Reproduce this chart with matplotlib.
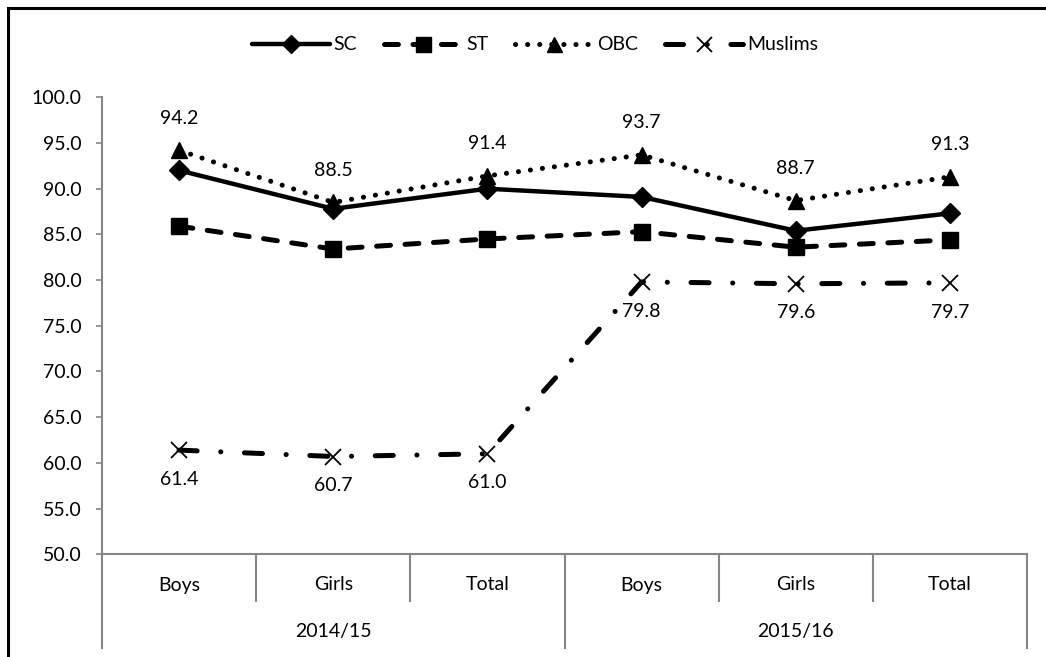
import matplotlib
matplotlib.use("Agg")
import matplotlib.pyplot as plt
import matplotlib.transforms as mtransforms
from matplotlib.patches import Rectangle
from matplotlib.lines import Line2D

# ---- data ----
years = ["2014/15", "2015/16"]
groups = ["Boys", "Girls", "Total"]
sc = [92.0, 87.8, 90.0, 89.1, 85.4, 87.3]
st = [85.9, 83.4, 84.5, 85.3, 83.6, 84.4]
obc = [94.2, 88.5, 91.4, 93.7, 88.7, 91.3]
muslims = [61.4, 60.7, 61.0, 79.8, 79.6, 79.7]
series_names = ["SC", "ST", "OBC", "Muslims"]
yticks = [50, 55, 60, 65, 70, 75, 80, 85, 90, 95, 100]

plt.rcParams["font.family"] = ["Lato", "DejaVu Sans"]
plt.rcParams["lines.scale_dashes"] = False

W, H = 1046, 657
fig = plt.figure(figsize=(W / 100, H / 100), dpi=100)
ax = fig.add_axes([102 / W, 1 - 554.3 / H, (1027 - 102) / W, (554.3 - 97.3) / H])

x = list(range(len(sc)))
grey = "#868686"
fs = 14

styles = [
    dict(data=sc, marker="D", ms=10, lw=3.2, dashes=None),
    dict(data=st, marker="s", ms=12, lw=3.6, dashes=(10, 10.5)),
    dict(data=obc, marker="^", ms=12, lw=3.6, dashes=(0.1, 8.6)),
    dict(data=muslims, marker="x", ms=12, lw=3.6, dashes=(13, 17, 0.1, 17)),
]

handles = []
for name, st_ in zip(series_names, styles):
    line, = ax.plot(x, st_["data"], color="black", lw=st_["lw"], marker=st_["marker"],
                    ms=st_["ms"], mfc="black", mec="black",
                    mew=1.3 if st_["marker"] == "x" else 1.0,
                    solid_capstyle="round", dash_capstyle="round",
                    clip_on=False, zorder=3)
    if st_["dashes"] is not None:
        line.set_dashes(st_["dashes"])
    line.set_label(name)
    handles.append(line)

# value labels: OBC above, Muslims below
for xi, v in zip(x, obc):
    ax.annotate(f"{v:.1f}", (xi, v), xytext=(0, 23), textcoords="offset points",
                ha="center", va="center", fontsize=fs)
for xi, v in zip(x, muslims):
    ax.annotate(f"{v:.1f}", (xi, v), xytext=(0, -21), textcoords="offset points",
                ha="center", va="center", fontsize=fs)

ax.set_xlim(-0.5, len(sc) - 0.5)
ax.set_ylim(50, 100)
ax.set_yticks(yticks)
ax.set_yticklabels([f"{t:.1f}" for t in yticks])
ax.tick_params(axis="y", length=4.3, width=1.2, color=grey, pad=10.5, labelsize=fs)
ax.set_xticks([])
for s in ["top", "right"]:
    ax.spines[s].set_visible(False)
for s in ["left", "bottom"]:
    ax.spines[s].set_color(grey)
    ax.spines[s].set_linewidth(1.5)

# two-level category axis
trans = mtransforms.blended_transform_factory(ax.transData, fig.transFigure)
y_axis = 1 - 554.3 / H
y_inner = 1 - 601 / H
y_outer = 1 - 648 / H
n = len(groups)
for k in range(len(sc) + 1):
    xb = k - 0.5
    y_end = y_outer if k % n == 0 else y_inner
    fig.add_artist(Line2D([xb, xb], [y_axis, y_end], transform=trans,
                          color=grey, lw=1.5))
for i in range(len(sc)):
    fig.text(i, 1 - 585 / H, groups[i % n], transform=trans,
             ha="center", va="center", fontsize=fs)
for j, yr in enumerate(years):
    fig.text(j * n + (n - 1) / 2, 1 - 632 / H, yr, transform=trans,
             ha="center", va="center", fontsize=fs)

# legend
fig.legend(handles=handles, loc="center", bbox_to_anchor=(535 / W, 1 - 45 / H),
           ncol=4, frameon=False, fontsize=fs, handlelength=4.0,
           handletextpad=0.2, columnspacing=1.4, markerscale=0.9)

# outer frame
fig.add_artist(Rectangle((8 / W, -0.2), 1.2, 1.2 - 8 / H, transform=fig.transFigure,
                         fill=False, ec="black", lw=2.2))

fig.savefig("out.png", dpi=100)
